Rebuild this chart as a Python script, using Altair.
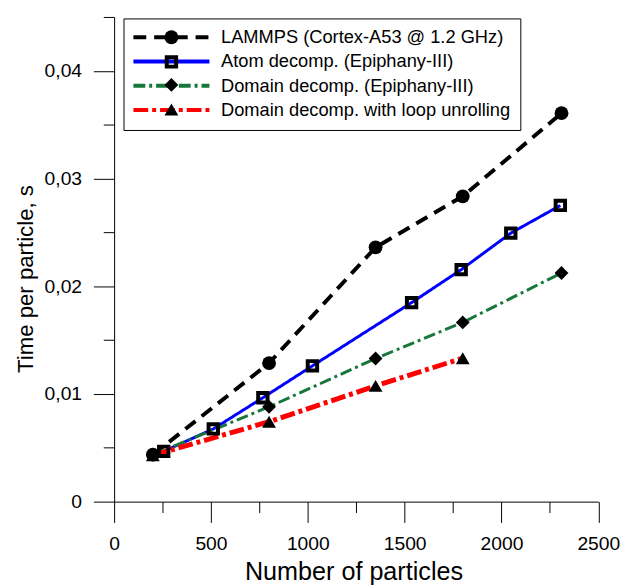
import altair as alt
import pandas as pd

# ---- data ----
series = [
    "LAMMPS (Cortex-A53 @ 1.2 GHz)",
    "Atom decomp. (Epiphany-III)",
    "Domain decomp. (Epiphany-III)",
    "Domain decomp. with loop unrolling",
]
lammps_x = [200, 800, 1350, 1800, 2310]
lammps_y = [0.00436, 0.01286, 0.02361, 0.02835, 0.03607]
atom_x = [256, 512, 768, 1024, 1536, 1792, 2048, 2304]
atom_y = [0.00467, 0.00675, 0.00965, 0.01261, 0.01848, 0.02154, 0.02493, 0.02750]
domain_x = [200, 800, 1350, 1800, 2310]
domain_y = [0.00436, 0.00880, 0.01329, 0.01664, 0.02123]
unroll_x = [200, 800, 1350, 1800]
unroll_y = [0.00430, 0.00742, 0.01075, 0.01332]

x_ticks = [0, 250, 500, 750, 1000, 1250, 1500, 1750, 2000, 2250, 2500]
y_ticks = [0, 0.005, 0.01, 0.015, 0.02, 0.025, 0.03, 0.035, 0.04, 0.045]

# ---- styles ----
colors = ["#000000", "#0000FF", "#17763A", "#FF0000"]
dashes = [[13, 8], [1, 0], [12, 4, 3, 4], [15, 4, 4, 4]]
widths = [4, 3, 3, 5]
marker_keys = ["m0", "m1", "m2", "m3"]
shapes = ["circle", "M-0.68,-0.68H0.68V0.68H-0.68Z", "diamond", "triangle-up"]
fills = ["#000000", "transparent", "#000000", "#000000"]
strokes = ["transparent", "#000000", "transparent", "transparent"]

rows = []
for i, (xs, ys) in enumerate([(lammps_x, lammps_y), (atom_x, atom_y),
                              (domain_x, domain_y), (unroll_x, unroll_y)]):
    for k, (xv, yv) in enumerate(zip(xs, ys)):
        rows.append({"series": series[i], "mk": marker_keys[i], "x": xv, "y": yv,
                     "lw": widths[i], "order": k})
df = pd.DataFrame(rows)

FONT = "Liberation Sans"

x_enc = alt.X(
    "x:Q",
    scale=alt.Scale(domain=[0, 2500], nice=False, zero=False),
    axis=alt.Axis(
        title="Number of particles",
        values=x_ticks,
        format="d",
        labelExpr="datum.value % 500 == 0 ? datum.label : ''",
        tickSize={"condition": {"test": "datum.value % 500 == 0", "value": 21}, "value": 11},
        grid=False,
        labelFlush=False,
        labelPadding=12,
        titleFontSize=25.5,
        titleBaseline="alphabetic",
        titleY=78.5,
        titleX=242.5,
    ),
)
y_enc = alt.Y(
    "y:Q",
    scale=alt.Scale(domain=[0, 0.045], nice=False, zero=False),
    axis=alt.Axis(
        title="Time per particle, s",
        values=y_ticks,
        labelExpr="datum.value == 0 ? '0' : (abs(datum.value*100 - round(datum.value*100)) < 1e-6 ? replace(format(datum.value, '.2f'), '.', ',') : '')",
        tickSize={"condition": {"test": "abs(datum.value*100 - round(datum.value*100)) < 1e-6", "value": 21}, "value": 11},
        grid=False,
        labelFlush=False,
        labelPadding=12,
        titleFontSize=22.5,
        titleBaseline="alphabetic",
        titleX=-83,
        titleY=265,
    ),
)

legend_common = dict(
    orient="none",
    legendX=9.5,
    legendY=1.5,
    title=None,
    padding=9.8,
    labelFont=FONT,
    labelFontSize=18.5,
    labelLimit=500,
    symbolSize=196,
    symbolStrokeWidth=4,
    symbolOffset=29.5,
    labelOffset=41,
)

lines = alt.Chart(df).mark_line(strokeCap="butt").encode(
    x=x_enc,
    y=y_enc,
    color=alt.Color(
        "series:N",
        scale=alt.Scale(domain=series, range=colors),
        legend=alt.Legend(symbolType="M-5.5,0H5.5", strokeColor="black",
                          labelColor="black", rowPadding=5.6, **legend_common),
    ),
    strokeDash=alt.StrokeDash("series:N", scale=alt.Scale(domain=series, range=dashes)),
    strokeWidth=alt.StrokeWidth("lw:Q", scale=None),
    order="order:Q",
)

points = alt.Chart(df).mark_point(filled=True, size=196, strokeWidth=4, opacity=1).encode(
    x="x:Q",
    y="y:Q",
    shape=alt.Shape(
        "mk:N",
        scale=alt.Scale(domain=marker_keys, range=shapes),
        legend=alt.Legend(labelOpacity=0, labelExpr="''", rowPadding=-5.7, **legend_common),
    ),
    fill=alt.Fill("mk:N", scale=alt.Scale(domain=marker_keys, range=fills)),
    stroke=alt.Stroke("mk:N", scale=alt.Scale(domain=marker_keys, range=strokes)),
)

chart = alt.layer(lines, points).properties(
    width=490.5,
    height=491,
    autosize=alt.AutoSizeParams(type="none"),
    padding={"left": 107.5, "top": 5.3, "right": 24, "bottom": 84},
).configure(background="white").configure_view(stroke=None).configure_axis(
    domainColor="black",
    tickColor="black",
    domainWidth=1,
    tickWidth=1,
    labelFont=FONT,
    labelFontSize=19.5,
    labelColor="black",
    titleFont=FONT,
    titleFontWeight="normal",
    titleColor="black",
)

chart.save("out.html", embed_options={"renderer": "svg", "actions": False})
